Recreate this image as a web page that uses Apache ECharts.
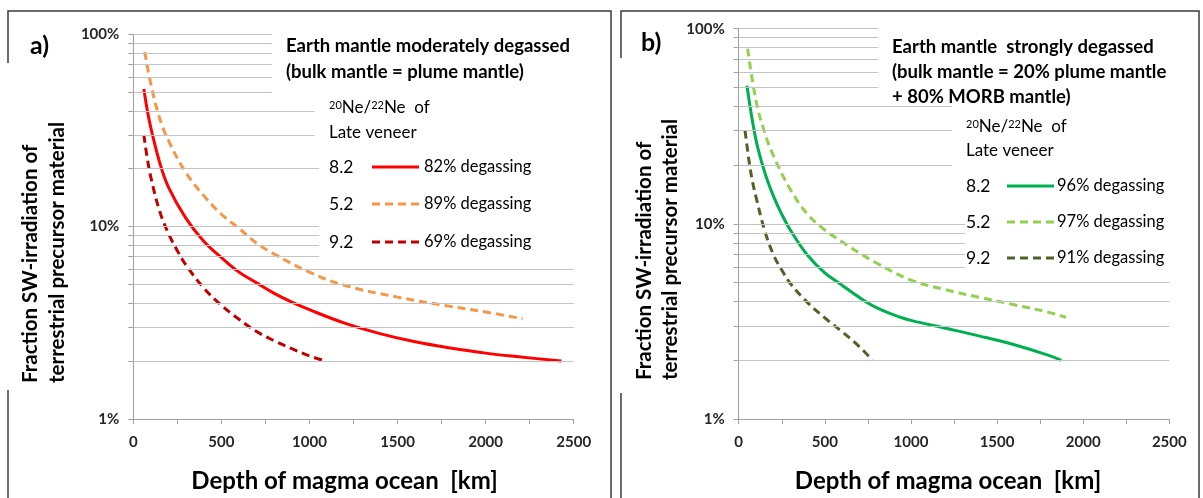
<!DOCTYPE html>
<html>
<head>
<meta charset="utf-8">
<script src="https://cdn.jsdelivr.net/npm/echarts@6/dist/echarts.min.js"></script>
<style>
  html, body { margin: 0; padding: 0; background: #fff; }
  #chart { width: 1203px; height: 498px; }
</style>
</head>
<body>
<div id="chart"></div>
<script>
// Fraction of SW-irradiated terrestrial precursor material vs. depth of magma ocean
const depthTicks = [0, 500, 1000, 1500, 2000, 2500];            // km
const fractionLabels = [1, 10, 100];                              // %
const fractionLevels = [1, 2, 3, 4, 5, 6, 7, 8, 9, 10, 20, 30, 40, 50, 60, 70, 80, 90, 100];

// a) Earth mantle moderately degassed  — [depth km, fraction %]
const a82 = [[60, 52], [80, 40], [100, 32.5], [150, 21.5], [200, 16], [300, 11], [400, 8.4], [500, 6.9],
  [600, 5.8], [700, 5.1], [800, 4.5], [900, 4.05], [1000, 3.7], [1200, 3.15], [1400, 2.78], [1600, 2.52],
  [1800, 2.34], [2000, 2.2], [2200, 2.1], [2430, 2.0]];
const a89 = [[65, 81], [100, 55], [150, 36.5], [200, 28], [300, 19], [400, 14.5], [500, 11.6], [600, 9.8],
  [700, 8.2], [800, 7.2], [1000, 5.8], [1200, 4.95], [1500, 4.3], [1800, 3.85], [2000, 3.6], [2210, 3.32]];
const a69 = [[60, 30], [80, 22.5], [100, 18], [150, 12], [200, 9.2], [250, 7.5], [300, 6.3], [400, 4.8],
  [500, 3.9], [600, 3.3], [700, 2.85], [800, 2.55], [900, 2.32], [1000, 2.13], [1090, 2.0]];

// b) Earth mantle strongly degassed — [depth km, fraction %]
const b96 = [[48, 51], [100, 27], [150, 18.5], [200, 14], [250, 11.2], [300, 9.3], [400, 6.9], [500, 5.6],
  [600, 4.85], [700, 4.2], [800, 3.72], [900, 3.42], [1000, 3.2], [1200, 2.92], [1400, 2.66], [1600, 2.4],
  [1800, 2.12], [1873, 2.0]];
const b97 = [[52, 79], [100, 43], [150, 29.5], [200, 22.5], [300, 15], [400, 11.2], [500, 9.3], [600, 8.1],
  [700, 7.1], [800, 6.3], [1000, 5.15], [1200, 4.6], [1400, 4.2], [1600, 3.85], [1800, 3.52], [1900, 3.32]];
const b91 = [[37, 30], [60, 21], [80, 16.5], [100, 13.8], [150, 9.3], [200, 7.0], [250, 5.8], [300, 4.95],
  [400, 3.95], [500, 3.3], [600, 2.8], [700, 2.35], [776, 2.0]];

const legendA = [
  { ratio: '8.2', label: '82% degassing', color: '#FF0000', dashed: false },
  { ratio: '5.2', label: '89% degassing', color: '#F79646', dashed: true },
  { ratio: '9.2', label: '69% degassing', color: '#C00000', dashed: true }
];
const legendB = [
  { ratio: '8.2', label: '96% degassing', color: '#00B050', dashed: false },
  { ratio: '5.2', label: '97% degassing', color: '#92D050', dashed: true },
  { ratio: '9.2', label: '91% degassing', color: '#4F6228', dashed: true }
];

const FONT = 'Lato, "Open Sans", "Liberation Sans", sans-serif';
const AXIS_GREY = '#A0A0A0';
const GRID_GREY = '#C4C4C4';
const DASH = [8, 5];

// grid lines stop where the annotation boxes sit
function gridEndA(v) {
  if (v >= 50) return 787;
  if (v >= 30) return 1030;
  if (v >= 7) return 1055;
  return 2500;
}
function gridEndB(v) {
  if (v >= 50) return 809;
  if (v >= 20) return 1239;
  if (v >= 6) return 1314;
  return 2500;
}

function gridLineSeries(gi, endFn) {
  return {
    type: 'line', xAxisIndex: gi, yAxisIndex: gi, data: [], silent: true, z: 1,
    markLine: {
      silent: true, symbol: ['none', 'none'], animation: false,
      label: { show: false },
      lineStyle: { color: GRID_GREY, width: 1, type: 'solid' },
      emphasis: { disabled: true },
      data: fractionLevels.filter(v => v > 1).map(v => [{ coord: [0, v] }, { coord: [endFn(v), v] }])
    }
  };
}

function curve(name, data, style, gi) {
  return {
    name, type: 'line', xAxisIndex: gi, yAxisIndex: gi, data,
    smooth: 0.4, showSymbol: false, symbol: 'none', silent: true, z: 3,
    lineStyle: { color: style.color, width: 3, type: style.dashed ? DASH : 'solid', cap: 'butt', join: 'round' }
  };
}

function xAxisFor(gi, shift) {
  return {
    gridIndex: gi, type: 'value', min: 0, max: 2500, interval: 500,
    axisLine: { show: true, onZero: false, lineStyle: { color: AXIS_GREY, width: 1 } },
    axisTick: { show: true, length: 5, lineStyle: { color: AXIS_GREY } },
    minorTick: { show: true, splitNumber: 2, length: 5, lineStyle: { color: AXIS_GREY } },
    splitLine: { show: false }, minorSplitLine: { show: false },
    axisLabel: {
      customValues: depthTicks, formatter: v => String(Math.round(v)),
      fontFamily: FONT, fontWeight: 'bold', fontSize: 15, color: '#262626', margin: 16
    },
    name: 'Depth of magma ocean  [km]', nameLocation: 'middle', nameGap: 50,
    nameTextStyle: { fontFamily: FONT, fontWeight: 'bold', fontSize: 24, color: '#000', padding: [0, shift, 0, 0] }
  };
}

function yAxisFor(gi) {
  return {
    gridIndex: gi, type: 'log', logBase: 10, min: 1, max: 100,
    axisLine: { show: true, lineStyle: { color: AXIS_GREY, width: 1 } },
    axisTick: { show: true, length: 5, customValues: fractionLevels, lineStyle: { color: AXIS_GREY } },
    axisLabel: {
      customValues: fractionLabels, formatter: v => Math.round(v) + '%',
      fontFamily: FONT, fontWeight: 'bold', fontSize: 15, color: '#262626', margin: 14
    },
    splitLine: { show: false }
  };
}

function text(x, y, str, opt) {
  return {
    type: 'text', x, y, silent: true, z: 10, rotation: (opt && opt.rotation) || 0,
    style: Object.assign({
      text: str, fontFamily: FONT, fontSize: 16, fill: '#000',
      align: 'left', verticalAlign: 'middle'
    }, opt && opt.style)
  };
}

function seg(x1, y1, x2, y2, color, width, dash) {
  return {
    type: 'line', silent: true, z: 10,
    shape: { x1, y1, x2, y2 },
    style: { stroke: color, lineWidth: width, lineDash: dash || null }
  };
}

function legendBlock(items, x0, yRows, sx1, sx2, lx) {
  const out = [];
  items.forEach((it, i) => {
    out.push(text(x0, yRows[i], it.ratio, { style: { fontSize: 17.5 } }));
    out.push(seg(sx1, yRows[i], sx2, yRows[i], it.color, 3, it.dashed ? DASH : null));
    out.push(text(lx, yRows[i], it.label, { style: { fontSize: 16.5 } }));
  });
  return out;
}

const richSup = { sup: { fontSize: 11, verticalAlign: 'top', fontFamily: FONT, fill: '#000' } };
const bold = { fontWeight: 'bold', fontSize: 18.5 };
const axisTitle = { fontWeight: 'bold', fontSize: 20.5, align: 'left' };

const graphics = [
  // panel frames
  { type: 'polyline', silent: true, z: 0, shape: { points: [[8, 63], [8, 11], [611, 11], [611, 498]] }, style: { stroke: '#3A3A3A', lineWidth: 1.5, fill: null } },
  seg(8, 390, 8, 498, '#3A3A3A', 1.5),
  { type: 'polyline', silent: true, z: 0, shape: { points: [[621, 58], [621, 11], [1199, 11], [1199, 498]] }, style: { stroke: '#3A3A3A', lineWidth: 1.5, fill: null } },
  seg(621, 393, 621, 498, '#3A3A3A', 1.5),

  // panel a)
  text(30, 46, 'a)', { style: { fontWeight: 'bold', fontSize: 25 } }),
  text(30, 383, 'Fraction SW-irradiation of', { rotation: Math.PI / 2, style: axisTitle }),
  text(57, 383, 'terrestrial precursor material', { rotation: Math.PI / 2, style: axisTitle }),
  text(286, 46, 'Earth mantle moderately degassed', { style: bold }),
  text(286, 72, '(bulk mantle = plume mantle)', { style: bold }),
  text(329, 108, '{sup|20}Ne/{sup|22}Ne  of', { style: { fontSize: 17, rich: richSup } }),
  text(329, 133, 'Late veneer', { style: { fontSize: 17 } }),
  ...legendBlock(legendA, 329, [167, 204, 242], 372, 419, 424),

  // panel b)
  text(641, 43, 'b)', { style: { fontWeight: 'bold', fontSize: 25 } }),
  text(644, 380, 'Fraction SW-irradiation of', { rotation: Math.PI / 2, style: axisTitle }),
  text(670, 380, 'terrestrial precursor material', { rotation: Math.PI / 2, style: axisTitle }),
  text(892, 47, 'Earth mantle  strongly degassed', { style: bold }),
  text(892, 72, '(bulk mantle = 20% plume mantle', { style: bold }),
  text(892, 97, '+ 80% MORB mantle)', { style: bold }),
  text(966, 127, '{sup|20}Ne/{sup|22}Ne  of', { style: { fontSize: 17, rich: richSup } }),
  text(966, 151, 'Late veneer', { style: { fontSize: 17 } }),
  ...legendBlock(legendB, 966, [186, 222, 258], 1007, 1054, 1057)
];

const chart = echarts.init(document.getElementById('chart'), null, { renderer: 'canvas' });
chart.setOption({
  backgroundColor: '#fff',
  animation: false,
  grid: [
    { left: 133.3, top: 34.3, width: 440.4, height: 393 },
    { left: 738.7, top: 28.7, width: 430.6, height: 399.3 }
  ],
  xAxis: [xAxisFor(0, 18), xAxisFor(1, 12)],
  yAxis: [yAxisFor(0), yAxisFor(1)],
  series: [
    gridLineSeries(0, gridEndA),
    gridLineSeries(1, gridEndB),
    curve(legendA[1].label, a89, legendA[1], 0),
    curve(legendA[0].label, a82, legendA[0], 0),
    curve(legendA[2].label, a69, legendA[2], 0),
    curve(legendB[1].label, b97, legendB[1], 1),
    curve(legendB[0].label, b96, legendB[0], 1),
    curve(legendB[2].label, b91, legendB[2], 1)
  ],
  graphic: graphics
});
</script>
</body>
</html>
